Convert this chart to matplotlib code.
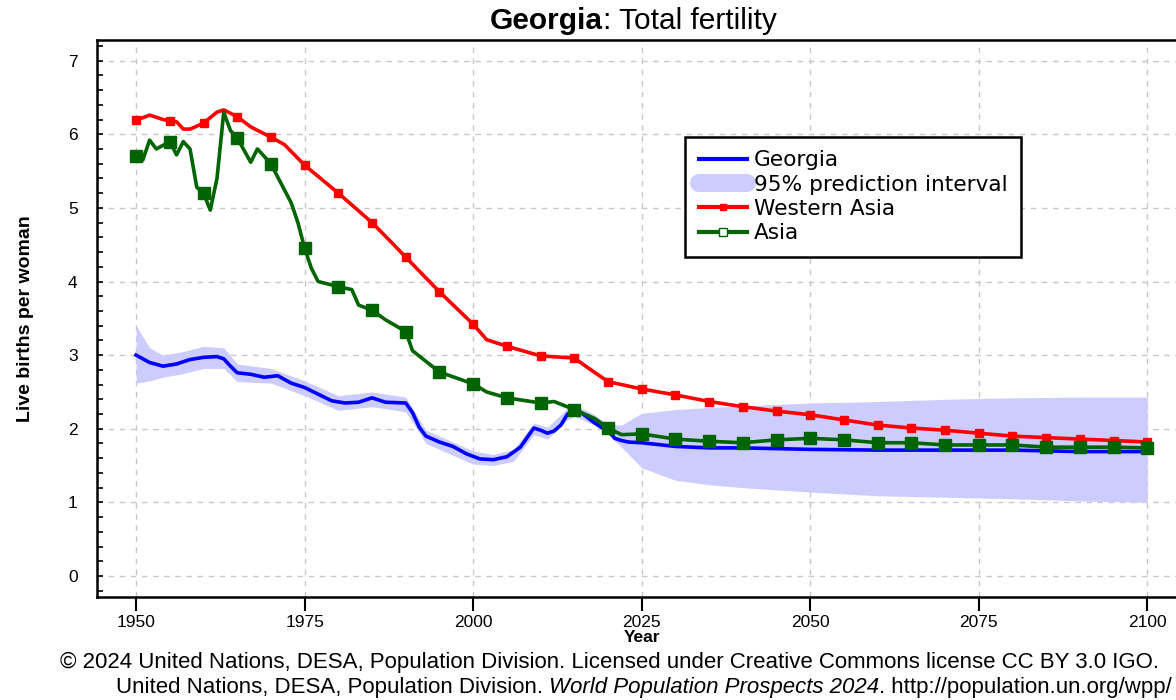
import matplotlib
matplotlib.use("Agg")
import matplotlib.pyplot as plt
import numpy as np
from matplotlib.lines import Line2D
from matplotlib.ticker import MultipleLocator

# Dados (World Population Prospects 2024)

geo_anos = [1950, 1952, 1954, 1956, 1958, 1960, 1962, 1963, 1964, 1965, 1967, 1969,
            1971, 1973, 1975, 1977, 1979, 1981, 1983, 1985, 1987, 1990, 1991, 1992,
            1993, 1995, 1997, 1999, 2001, 2003, 2005, 2007, 2008, 2009, 2010, 2011,
            2012, 2013, 2014, 2015, 2016, 2017, 2018, 2019, 2020, 2021, 2022, 2023,
            2025, 2030, 2035, 2040, 2050, 2060, 2070, 2080, 2090, 2100]
geo_tfr = [3.00, 2.90, 2.85, 2.88, 2.94, 2.97, 2.98, 2.95, 2.85, 2.76, 2.74, 2.70,
           2.72, 2.62, 2.56, 2.47, 2.38, 2.35, 2.36, 2.42, 2.36, 2.35, 2.22, 2.02,
           1.90, 1.82, 1.76, 1.66, 1.59, 1.58, 1.62, 1.75, 1.88, 2.01, 1.98, 1.94,
           1.97, 2.05, 2.20, 2.25, 2.22, 2.15, 2.08, 2.02, 1.98, 1.87, 1.84, 1.82,
           1.81, 1.76, 1.74, 1.74, 1.72, 1.71, 1.71, 1.71, 1.69, 1.69]

pi_anos = [1950, 1952, 1954, 1957, 1960, 1963, 1965, 1970, 1975, 1980, 1985, 1990,
           1993, 1995, 2000, 2003, 2006, 2009, 2011, 2014, 2015, 2018, 2020, 2022,
           2025, 2030, 2035, 2040, 2050, 2060, 2070, 2080, 2090, 2100]
pi_inf = [2.62, 2.65, 2.70, 2.75, 2.82, 2.82, 2.64, 2.62, 2.45, 2.25, 2.30, 2.23,
          1.80, 1.72, 1.52, 1.50, 1.56, 1.92, 1.86, 2.12, 2.17, 2.05, 1.92, 1.75,
          1.47, 1.30, 1.24, 1.20, 1.14, 1.09, 1.07, 1.05, 1.02, 1.00]
pi_sup = [3.40, 3.10, 3.00, 3.05, 3.12, 3.10, 2.88, 2.82, 2.65, 2.45, 2.50, 2.43,
          1.98, 1.90, 1.70, 1.65, 1.72, 2.08, 2.02, 2.28, 2.33, 2.19, 2.06, 2.05,
          2.21, 2.26, 2.29, 2.31, 2.35, 2.37, 2.40, 2.42, 2.43, 2.43]

wa_anos = [1950, 1952, 1954, 1955, 1956, 1957, 1958, 1960, 1962, 1963, 1965, 1967,
           1970, 1972, 1975, 1980, 1985, 1988, 1990, 1995, 2000, 2002, 2005, 2010,
           2015, 2017, 2020, 2025, 2030, 2035, 2040, 2045, 2050, 2055, 2060, 2065,
           2070, 2075, 2080, 2085, 2090, 2095, 2100]
wa_tfr = [6.19, 6.26, 6.20, 6.18, 6.17, 6.07, 6.07, 6.15, 6.30, 6.33, 6.24, 6.10,
          5.96, 5.86, 5.58, 5.20, 4.80, 4.52, 4.33, 3.86, 3.42, 3.21, 3.12, 2.99,
          2.96, 2.83, 2.64, 2.54, 2.46, 2.37, 2.30, 2.24, 2.19, 2.12, 2.05, 2.01,
          1.98, 1.94, 1.90, 1.88, 1.86, 1.84, 1.82]

as_anos = [1950, 1951, 1952, 1953, 1955, 1956, 1957, 1958, 1959, 1960, 1961, 1962,
           1963, 1964, 1965, 1967, 1968, 1970, 1971, 1973, 1974, 1975, 1976, 1977,
           1980, 1982, 1983, 1985, 1987, 1990, 1991, 1995, 2000, 2002, 2005, 2010,
           2012, 2015, 2018, 2020, 2022, 2025, 2030, 2035, 2040, 2045, 2050, 2055,
           2060, 2065, 2070, 2075, 2080, 2085, 2090, 2095, 2100]
as_tfr = [5.70, 5.65, 5.92, 5.80, 5.90, 5.72, 5.90, 5.80, 5.28, 5.20, 4.97, 5.40,
          6.30, 6.05, 5.95, 5.62, 5.80, 5.60, 5.42, 5.07, 4.80, 4.45, 4.18, 4.00,
          3.93, 3.89, 3.68, 3.61, 3.48, 3.32, 3.06, 2.77, 2.61, 2.50, 2.42, 2.35,
          2.37, 2.26, 2.14, 2.01, 1.92, 1.93, 1.86, 1.83, 1.81, 1.85, 1.87, 1.85,
          1.81, 1.81, 1.78, 1.78, 1.78, 1.75, 1.75, 1.75, 1.74]

anos_ticks = [1950, 1975, 2000, 2025, 2050, 2075, 2100]

# Cores
AZUL = '#0000ff'
VERMELHO = '#ff0000'
VERDE = '#006400'
LILAS = '#ccccff'

plt.rcParams['font.family'] = ['Liberation Sans', 'DejaVu Sans']

fig = plt.figure(figsize=(11.76, 7.0), dpi=100)
ax = fig.add_axes([97 / 1176, 1 - 597 / 700, 1 - 97 / 1176 + 0.01, (597 - 40) / 700])

# Intervalo de predição
ax.fill_between(pi_anos, pi_inf, pi_sup, color=LILAS, linewidth=0, zorder=2)

# Séries
ax.plot(geo_anos, geo_tfr, color=AZUL, linewidth=2.6, zorder=3)

wa_mark = [i for i, a in enumerate(wa_anos) if a % 5 == 0]
ax.plot(wa_anos, wa_tfr, color=VERMELHO, linewidth=2.6, marker='s', markersize=5.5,
        markevery=wa_mark, zorder=4)

as_mark = [i for i, a in enumerate(as_anos) if a % 5 == 0]
ax.plot(as_anos, as_tfr, color=VERDE, linewidth=2.6, marker='s', markersize=8.5,
        markevery=as_mark, zorder=5)

# Eixos
ax.set_xlim(1944.2, 2106)
ax.set_ylim(-0.285, 7.28)
ax.set_xticks(anos_ticks)
ax.set_yticks(range(0, 8))
ax.yaxis.set_minor_locator(MultipleLocator(0.2))
ax.tick_params(axis='x', direction='out', length=10, width=1.5, labelsize=12.5, pad=3)
ax.tick_params(axis='y', which='major', direction='in', length=4, width=1.2, labelsize=12.5, pad=14)
ax.tick_params(axis='y', which='minor', direction='in', length=4, width=1.2)
for s in ['left', 'bottom', 'top']:
    ax.spines[s].set_linewidth(1.8)
ax.spines['right'].set_visible(False)
ax.grid(True, which='major', linestyle=(0, (4, 4)), color='#c8c8c8', linewidth=1)
ax.set_axisbelow(True)

ax.set_xlabel('Year', fontsize=12.5, fontweight='bold', labelpad=0)
ax.set_ylabel('Live births per woman', fontsize=14, fontweight='bold', labelpad=24)

# Legenda
handles = [
    Line2D([], [], color=AZUL, linewidth=3),
    Line2D([], [], color=LILAS, linewidth=13, solid_capstyle='round'),
    Line2D([], [], color=VERMELHO, linewidth=3, marker='s', markersize=5),
    Line2D([], [], color=VERDE, linewidth=3, marker='s', markersize=6,
           markerfacecolor='white', markeredgecolor=VERDE),
]
labels = ['Georgia', '95% prediction interval', 'Western Asia', 'Asia']
leg = ax.legend(handles, labels, loc='upper left', bbox_to_anchor=(0.5395, 0.826),
                borderaxespad=0, frameon=True, fancybox=False, framealpha=1,
                edgecolor='black', prop={'family': 'DejaVu Sans', 'size': 15.6},
                handlelength=2.2, handletextpad=0.33, labelspacing=0.2,
                borderpad=0.62)
leg.get_frame().set_linewidth(1.8)

# Título com "Georgia" em negrito
fig.canvas.draw()
r = fig.canvas.get_renderer()
fig.text(603 / 1176, 1 - 21 / 700, 'Georgia', fontsize=21.5, fontweight='bold',
         ha='right', va='center')
fig.text(603 / 1176, 1 - 21 / 700, ': Total fertility', fontsize=21.5, ha='left', va='center')

# Rodapé
fig.text(60 / 1176, 1 - 662 / 700,
         '© 2024 United Nations, DESA, Population Division. Licensed under Creative Commons license CC BY 3.0 IGO.',
         fontsize=16, ha='left', va='center')
partes = [('United Nations, DESA, Population Division. ', 'normal'),
          ('World Population Prospects 2024', 'italic'),
          ('. http://population.un.org/wpp/', 'normal')]
x = 116 / 1176
for txt, estilo in partes:
    t = fig.text(x, 1 - 688 / 700, txt, fontsize=16, style=estilo, ha='left', va='center')
    bb = t.get_window_extent(renderer=r)
    x = bb.x1 / fig.bbox.width

fig.savefig('out.png', dpi=100)
